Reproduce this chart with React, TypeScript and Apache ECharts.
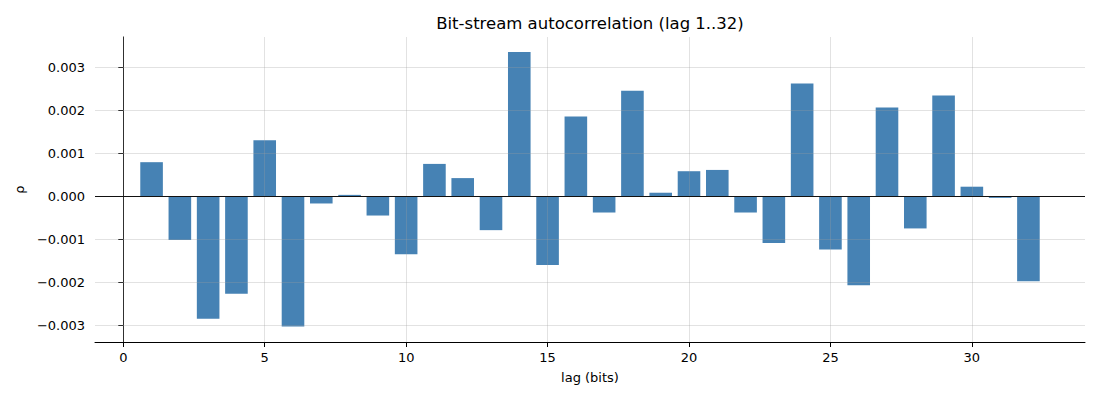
import React, { useEffect, useRef } from "react";
import * as echarts from "echarts";

const lags: number[] = [
  1, 2, 3, 4, 5, 6, 7, 8, 9, 10, 11, 12, 13, 14, 15, 16,
  17, 18, 19, 20, 21, 22, 23, 24, 25, 26, 27, 28, 29, 30, 31, 32,
];
const rho: number[] = [
  0.00079, -0.00102, -0.00285, -0.00227, 0.0013, -0.00303, -0.00017, 0.00003,
  -0.00045, -0.00135, 0.00075, 0.00042, -0.00079, 0.00335, -0.0016, 0.00185,
  -0.00038, 0.00245, 0.00008, 0.00058, 0.00061, -0.00038, -0.00109, 0.00262,
  -0.00124, -0.00207, 0.00206, -0.00075, 0.00234, 0.00022, -0.00004, -0.00198,
];
const xTicks: number[] = [0, 5, 10, 15, 20, 25, 30];
const yTicks: number[] = [-0.003, -0.002, -0.001, 0, 0.001, 0.002, 0.003];

const X_MIN = -1;
const X_MAX = 34;
const Y_MIN = -0.00339;
const Y_MAX = 0.0037;

const FONT = "DejaVu Sans";

export default function App() {
  const ref = useRef<HTMLDivElement>(null);
  useEffect(() => {
    document.body.style.margin = "0";
    if (!ref.current) return;
    const chart = echarts.init(ref.current, undefined, { renderer: "svg" });
    const gridStyle = { color: "rgba(160,160,160,0.3)", width: 1, type: "solid" as const };
    const markData: any[] = [
      ...xTicks.map((v) => [
        { coord: [v, Y_MIN], lineStyle: gridStyle },
        { coord: [v, Y_MAX] },
      ]),
      ...yTicks
        .filter((v) => v !== 0)
        .map((v) => [
          { coord: [X_MIN, v], lineStyle: gridStyle },
          { coord: [X_MAX, v] },
        ]),
      [
        { coord: [X_MIN, 0], lineStyle: { color: "#111", width: 1, type: "solid" } },
        { coord: [X_MAX, 0] },
      ],
    ];
    chart.setOption({
      animation: false,
      textStyle: { fontFamily: FONT },
      graphic: [
        {
          type: "text",
          x: 590,
          y: 23,
          style: {
            text: "Bit-stream autocorrelation (lag 1..32)",
            fontFamily: FONT,
            fontSize: 16.5,
            fill: "#000",
            align: "center",
            verticalAlign: "middle",
          },
        },
      ],
      grid: { left: 95, right: 15, top: 37, bottom: 58 },
      xAxis: {
        type: "value",
        min: X_MIN,
        max: X_MAX,
        name: "lag (bits)",
        nameLocation: "middle",
        nameGap: 29,
        nameTextStyle: { fontFamily: FONT, fontSize: 13, color: "#000" },
        axisLine: { show: true, onZero: false, lineStyle: { color: "#000", width: 1 } },
        axisTick: { show: true, length: 5, customValues: xTicks, lineStyle: { color: "#000", width: 1 } },
        axisLabel: {
          customValues: xTicks,
          fontFamily: FONT,
          fontSize: 13,
          color: "#000",
          margin: 9,
        },
        splitLine: { show: false },
      },
      yAxis: {
        type: "value",
        min: Y_MIN,
        max: Y_MAX,
        name: "ρ",
        nameLocation: "middle",
        nameGap: 68,
        nameRotate: 90,
        nameTextStyle: { fontFamily: FONT, fontSize: 13, color: "#000" },
        axisLine: { show: true, lineStyle: { color: "#000", width: 1 } },
        axisTick: { show: true, length: 5, customValues: yTicks, lineStyle: { color: "#000", width: 1 } },
        axisLabel: {
          customValues: yTicks,
          fontFamily: FONT,
          fontSize: 13,
          color: "#000",
          margin: 10,
          formatter: (v: number) =>
            v < 0 ? "\u2212" + Math.abs(v).toFixed(3) : v.toFixed(3),
        },
        splitLine: { show: false },
      },
      series: [
        {
          type: "bar",
          data: lags.map((l, i) => [l, rho[i]]),
          barWidth: 22.6,
          itemStyle: { color: "#4682b4" },
          markLine: {
            silent: true,
            symbol: ["none", "none"],
            label: { show: false },
            data: markData,
          },
        },
      ],
    });
    return () => chart.dispose();
  }, []);
  return <div ref={ref} style={{ width: 1100, height: 400 }} />;
}
